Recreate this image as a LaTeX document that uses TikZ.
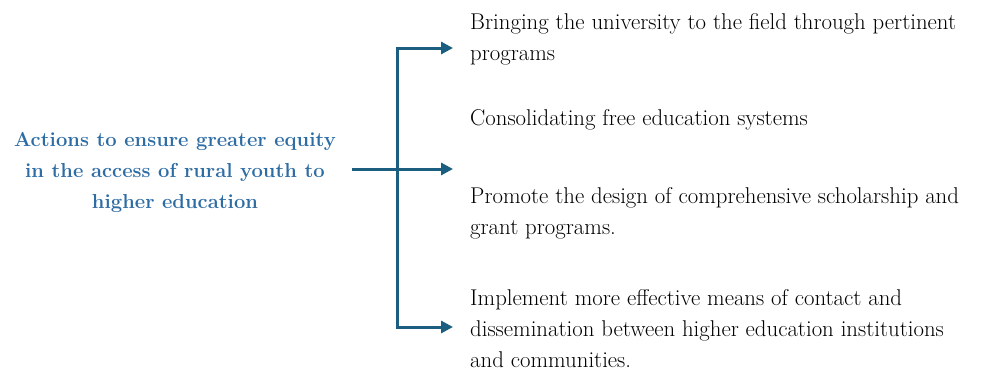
\documentclass[tikz,border=0pt]{standalone}
\usetikzlibrary{arrows.meta}
\definecolor{titleblue}{RGB}{46,108,164}
\definecolor{arrowblue}{RGB}{27,94,128}
\tikzstyle{branch}=[draw=arrowblue,line width=3pt,line join=miter,{Triangle[length=12pt,width=12pt]}-{Triangle[length=12pt,width=12pt]}]
\tikzstyle{lead}=[draw=arrowblue,line width=3pt,-{Triangle[length=12pt,width=12pt]}]
\tikzstyle{item}=[anchor=base west,inner sep=0pt,align=left,text=black,font=\fontsize{22.8}{31}\selectfont]
\tikzstyle{title}=[anchor=base,inner sep=0pt,align=center,text=titleblue,font=\bfseries\fontsize{20.2}{31}\selectfont]

\begin{document}
\begin{tikzpicture}[x=1pt,y=-1pt]
  \useasboundingbox (0,0) rectangle (989,372);

  % anchors sit on the last line's baseline
  \node[title] (act) at (175,208) {Actions to ensure greater equity\\in the access of rural youth to\\higher education};

  \node[item] (i1) at (470,60) {Bringing the university to the field through pertinent\\programs};
  \node[item] (i2) at (470,125) {Consolidating free education systems};
  \node[item] (i3) at (470,234) {Promote the design of comprehensive scholarship and\\grant programs.};
  \node[item] (i4) at (470,367) {Implement more effective means of contact and\\dissemination between higher education institutions\\and communities.};

  % bracket and arrows
  \coordinate (s) at (352,169);
  \coordinate (m) at (453,169);
  \coordinate (top) at (397,48);
  \coordinate (bot) at (397,327);
  \coordinate (t1) at (453,48);
  \coordinate (b1) at (453,327);
  \draw[branch] (t1) -- (top) -- (bot) -- (b1);
  \draw[lead] (s) -- (m);
\end{tikzpicture}
\end{document}
